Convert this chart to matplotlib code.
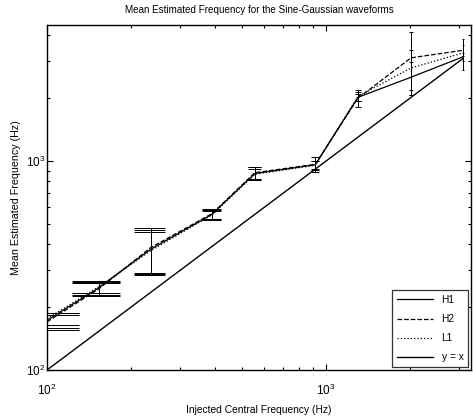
import numpy as np
import matplotlib
matplotlib.use("Agg")
import matplotlib.pyplot as plt
from matplotlib.ticker import NullFormatter, LogLocator

plt.rcParams['font.family'] = ['Liberation Sans', 'DejaVu Sans']

# injected central frequencies (Hz)
freq = [100, 153, 235, 390, 556, 915, 1302, 2017, 3090]

# mean estimated frequency per detector (Hz)
h1_mean = [173, 247, 378, 556, 872, 960, 2020, 2520, 3150]
h2_mean = [170, 244, 385, 560, 880, 965, 2000, 3120, 3390]
l1_mean = [176, 250, 372, 552, 865, 955, 2040, 2790, 3290]

# standard deviations
h1_err = [14, 18, 90, 30, 60, 40, 80, 450, 150]
h2_err = [14, 18, 95, 33, 60, 80, 180, 1050, 200]
l1_err = [12, 16, 88, 28, 55, 50, 100, 600, 560]

series = [
    ("H1", h1_mean, h1_err, "-"),
    ("H2", h2_mean, h2_err, "--"),
    ("L1", l1_mean, l1_err, ":"),
]

fig = plt.figure(figsize=(4.73, 4.19), dpi=100)
ax = fig.add_axes([0.0994, 0.1169, 0.8964, 0.8234])

x = np.array(freq, dtype=float)
# cap half-width in data units, like the old matlab errorbar
tee = (x.max() - x.min()) / 100.0

for name, m, e, ls in series:
    m = np.array(m, dtype=float)
    e = np.array(e, dtype=float)
    ax.plot(x, m, ls, color="black", lw=0.9, label=name)
    ax.vlines(x, m - e, m + e, color="black", lw=0.7)
    ax.hlines(m + e, x - tee, x + tee, color="black", lw=0.7)
    ax.hlines(m - e, x - tee, x + tee, color="black", lw=0.7)

ax.plot(x, x, "-", color="black", lw=1.0, label="y = x")

ax.set_xscale("log")
ax.set_yscale("log")
ax.set_xlim(100, 3310)
ax.set_ylim(100, 4480)

ax.xaxis.set_major_locator(LogLocator(base=10))
ax.yaxis.set_major_locator(LogLocator(base=10))
ax.xaxis.set_minor_formatter(NullFormatter())
ax.yaxis.set_minor_formatter(NullFormatter())
ax.tick_params(which="both", direction="in", top=True, right=True, labelsize=8.5, width=0.8)
ax.tick_params(which="major", length=4)
ax.tick_params(which="minor", length=2.5)
ax.tick_params(axis="x", pad=9)
ax.tick_params(axis="y", pad=1)
for s in ax.spines.values():
    s.set_linewidth(1.0)

ax.set_title("Mean Estimated Frequency for the Sine-Gaussian waveforms", fontsize=7.1, pad=9)
ax.set_xlabel("Injected Central Frequency (Hz)", fontsize=7.4, labelpad=5)
ax.set_ylabel("Mean Estimated Frequency (Hz)", fontsize=7.7, labelpad=4)

leg = ax.legend(loc="lower right", fontsize=7.3, frameon=True, fancybox=False,
                edgecolor="black", handlelength=3.6, labelspacing=0.9,
                borderaxespad=0.25, borderpad=0.5)
leg.get_frame().set_linewidth(0.9)

fig.savefig("out.png", dpi=100)
